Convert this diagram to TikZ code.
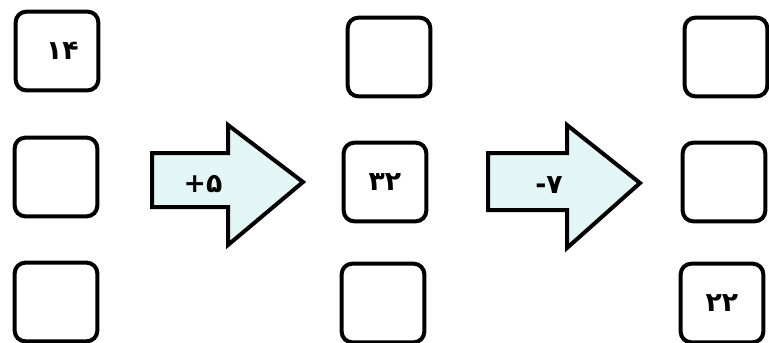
\documentclass[tikz,border=0pt]{standalone}
\usepackage{fontspec}
\newfontfamily\arabicfont[Script=Arabic]{DejaVu Sans}
\definecolor{arrowfill}{HTML}{E3F6F6}
\tikzset{
  numbox/.style={draw=black, line width=3pt, rounded corners=8pt, minimum width=62pt, minimum height=59pt, inner sep=0pt, font=\arabicfont\bfseries\fontsize{20}{24}\selectfont},
  bigarrow/.style={draw=black, fill=arrowfill, line width=3pt, line join=miter},
  oplabel/.style={inner sep=0pt, font=\arabicfont\bfseries\fontsize{20}{24}\selectfont}
}
\begin{document}
\begin{tikzpicture}[x=0.75pt,y=-0.75pt]
\useasboundingbox (0,0) rectangle (769,343);
% column 1
\node[numbox] (a1) at (57,51) {\hspace{8pt}۱۴};
\node[numbox] (a2) at (56,177) {};
\node[numbox] (a3) at (56,302) {};
% column 2
\node[numbox] (b1) at (389,57) {};
\node[numbox] (b2) at (385,182) {۳۲};
\node[numbox] (b3) at (383,303) {};
% column 3
\node[numbox] (c1) at (726,57) {};
\node[numbox] (c2) at (724,182) {};
\node[numbox] (c3) at (722,303) {۲۲};
% arrows
\draw[bigarrow] (152,153) -- (228,153) -- (228,125) -- (303,182) -- (228,245) -- (228,207) -- (152,207) -- cycle;
\node[oplabel] (op1) at (203,184) {\mbox{+}\mbox{۵}};
\draw[bigarrow] (488,153) -- (567,153) -- (567,125) -- (640,183) -- (567,248) -- (567,210) -- (488,210) -- cycle;
\node[oplabel] (op2) at (549,185) {\mbox{-}\mbox{۷}};
\end{tikzpicture}
\end{document}
